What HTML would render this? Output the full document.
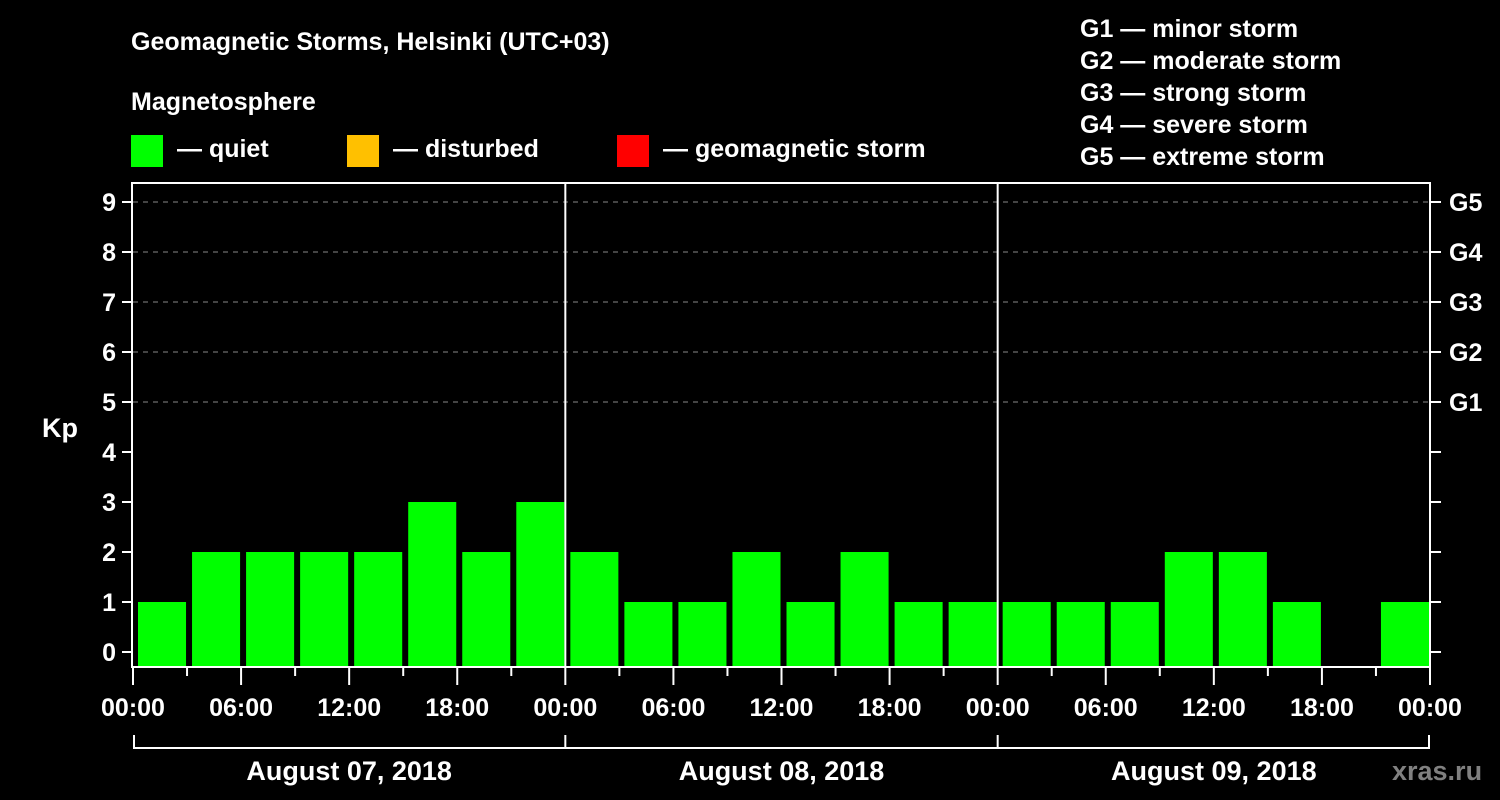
<!DOCTYPE html>
<html><head><meta charset="utf-8"><style>
body{margin:0;background:#000;}
svg{display:block;font-family:"Liberation Sans",Arial,sans-serif;font-weight:bold;}
</style></head><body>
<svg id="chart" width="1500" height="800" viewBox="0 0 1500 800">
<rect width="1500" height="800" fill="#000"/>
<text x="131" y="50" fill="#fff" font-size="25">Geomagnetic Storms, Helsinki (UTC+03)</text>
<text x="131" y="110" fill="#fff" font-size="25">Magnetosphere</text>
<g><rect x="131" y="135" width="32" height="32" fill="#00ff00"/><text x="177" y="157" fill="#fff" font-size="25">— quiet</text></g>
<g><rect x="347" y="135" width="32" height="32" fill="#ffc000"/><text x="393" y="157" fill="#fff" font-size="25">— disturbed</text></g>
<g><rect x="617" y="135" width="32" height="32" fill="#ff0000"/><text x="663" y="157" fill="#fff" font-size="25">— geomagnetic storm</text></g>
<g fill="#fff" font-size="25">
<text x="1080" y="37">G1 — minor storm</text>
<text x="1080" y="69">G2 — moderate storm</text>
<text x="1080" y="101">G3 — strong storm</text>
<text x="1080" y="133">G4 — severe storm</text>
<text x="1080" y="165">G5 — extreme storm</text>
</g>
<text x="42" y="437" fill="#fff" font-size="27">Kp</text>
<g id="grid"></g><g id="bars"></g><g id="axes"></g>
<text x="1392" y="780" fill="#808080" font-size="27">xras.ru</text>
</svg>
<script>
const kpValues = [1,2,2,2,2,3,2,3, 2,1,1,2,1,2,1,1, 1,1,1,2,2,1,0,1];
const dayLabels = ["August 07, 2018","August 08, 2018","August 09, 2018"];
const yTicks = [0,1,2,3,4,5,6,7,8,9];
const gLabels = ["G1","G2","G3","G4","G5"];
const timeLabels = ["00:00","06:00","12:00","18:00"];

const NS="http://www.w3.org/2000/svg";
const L=133,R=1430,T=183,B=667;
const slotW=(R-L)/kpValues.length;
const y=v=>652-v*50;
const x=i=>L+i*slotW;
function mk(tag,attrs,parent){const e=document.createElementNS(NS,tag);for(const k in attrs)e.setAttribute(k,attrs[k]);parent.appendChild(e);return e;}
const grid=document.getElementById('grid'),bars=document.getElementById('bars'),axes=document.getElementById('axes');

yTicks.forEach(v=>{
  if(v>=5){const g=mk('line',{x1:L,x2:R,y1:y(v),y2:y(v),stroke:'#888','stroke-dasharray':'5,5','stroke-width':1},grid);
  
  }
  mk('line',{x1:122,x2:L,y1:y(v),y2:y(v),stroke:'#fff','stroke-width':2},axes);
  mk('line',{x1:R,x2:1441,y1:y(v),y2:y(v),stroke:'#fff','stroke-width':2},axes);
  const t=mk('text',{x:116,y:y(v)+9,fill:'#fff','font-size':25,'text-anchor':'end'},axes);
  t.textContent=v;
  
  
});
gLabels.forEach((g,i)=>{
  const t=mk('text',{x:1449,y:y(5+i)+9,fill:'#fff','font-size':25},axes);
  t.textContent=g;
  
  
});
kpValues.forEach((v,i)=>{
  if(v<=0)return;
  const c=v>=5?'#ff0000':(v>=4?'#ffc000':'#00ff00');
  const r=mk('rect',{x:x(i)+5,y:y(v),width:slotW-6,height:B-y(v),fill:c},bars);
  
  
});
mk('rect',{x:132,y:T,width:R-132,height:B-T,fill:'none',stroke:'#fff','stroke-width':2},axes);
for(let d=1;d<dayLabels.length;d++){const xx=x(d*8);mk('line',{x1:xx,x2:xx,y1:T,y2:B,stroke:'#fff','stroke-width':2},axes);}
for(let i=0;i<=kpValues.length;i++){
  const xx=x(i);const major=i%2===0;
  mk('line',{x1:xx,x2:xx,y1:B,y2:major?B+18:B+9,stroke:'#fff','stroke-width':2},axes);
  if(major){const t=mk('text',{x:xx,y:716,fill:'#fff','font-size':25,'text-anchor':'middle'},axes);
    t.textContent=timeLabels[(i/2)%4];
    
    }
}
mk('path',{d:`M${L+1} 735 V748 H${R-1} V735`,fill:'none',stroke:'#fff','stroke-width':2},axes);
for(let d=1;d<dayLabels.length;d++){mk('line',{x1:x(d*8),x2:x(d*8),y1:735,y2:748,stroke:'#fff','stroke-width':2},axes);}
dayLabels.forEach((s,d)=>{
  const t=mk('text',{x:x(d*8+4),y:780,fill:'#fff','font-size':27,'text-anchor':'middle'},axes);
  t.textContent=s;
  
  
});
</script>
</body></html>
